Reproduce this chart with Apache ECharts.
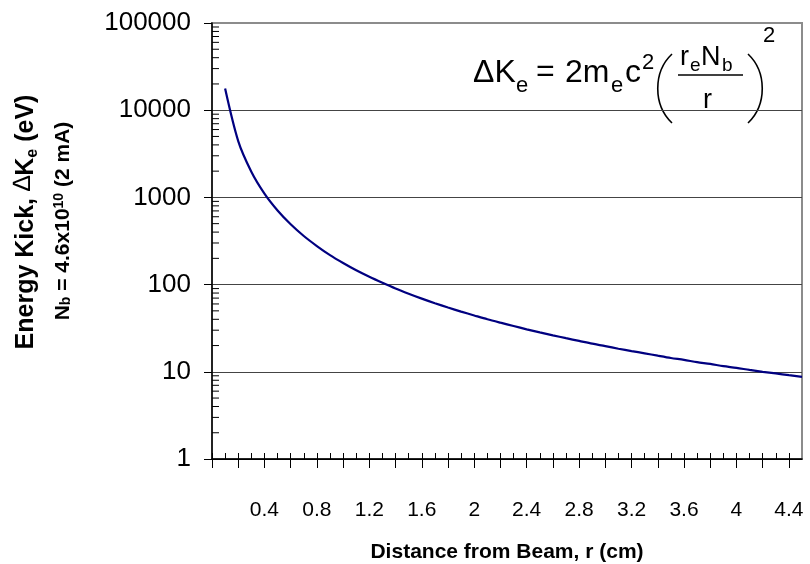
<!DOCTYPE html>
<html>
<head>
<meta charset="utf-8">
<script src="https://cdn.jsdelivr.net/npm/echarts@6/dist/echarts.min.js"></script>
<style>
  html, body { margin: 0; padding: 0; background: #fff; }
  #chart { width: 810px; height: 564px; }
</style>
</head>
<body>
<div id="chart"></div>
<script>
// ---- Data ----
const distances = [0.1, 0.2, 0.3, 0.4, 0.5, 0.6, 0.7, 0.8, 0.9, 1.0,
  1.1, 1.2, 1.3, 1.4, 1.5, 1.6, 1.7, 1.8, 1.9, 2.0,
  2.1, 2.2, 2.3, 2.4, 2.5, 2.6, 2.7, 2.8, 2.9, 3.0,
  3.1, 3.2, 3.3, 3.4, 3.5, 3.6, 3.7, 3.8, 3.9, 4.0,
  4.1, 4.2, 4.3, 4.4, 4.5];
const energyKick = [17700, 4420, 1970, 1105, 708, 492, 361, 277, 218, 177,
  146, 123, 105, 90.3, 78.7, 69.1, 61.2, 54.6, 49.0, 44.3,
  40.1, 36.6, 33.5, 30.7, 28.3, 26.2, 24.3, 22.6, 21.0, 19.7,
  18.4, 17.3, 16.3, 15.3, 14.4, 13.7, 12.9, 12.3, 11.6, 11.1,
  10.5, 10.0, 9.57, 9.14, 8.74];
const xTickLabels = ['0.4', '0.8', '1.2', '1.6', '2', '2.4', '2.8', '3.2', '3.6', '4', '4.4'];
const yTickLabels = ['1', '10', '100', '1000', '10000', '100000'];

// ---- Tick helpers (axis decoration only) ----
const X_MIN = 0, X_MAX = 4.5;
const xLabelValues = xTickLabels.map(Number);
const xMajorTicks = [];
for (let i = 0; i <= 22; i++) xMajorTicks.push(+(i * 0.2).toFixed(1));
const xAllTicks = [];
for (let i = 0; i <= 44; i++) xAllTicks.push(+(i * 0.1).toFixed(1));
const yMinorTicks = [];
for (let d = 0; d < 5; d++) {
  for (let k = 2; k <= 9; k++) yMinorTicks.push([X_MIN, k * Math.pow(10, d)]);
}

const font = 'Liberation Sans, Arial, Helvetica, sans-serif';
const chart = echarts.init(document.getElementById('chart'), null, { renderer: 'canvas' });

function txt(text, x, y, size) {
  return {
    type: 'text', x: x, y: y,
    style: { text: text, fill: '#000', fontFamily: font, fontSize: size, verticalAlign: 'middle', align: 'left' }
  };
}

const option = {
  animation: false,
  backgroundColor: '#fff',
  grid: {
    left: 212, right: 8, top: 23, bottom: 105,
    outerBoundsMode: 'none', containLabel: false,
    show: true, borderColor: '#8c8c8c', borderWidth: 2, backgroundColor: 'transparent'
  },
  xAxis: [{
    type: 'value', min: X_MIN, max: X_MAX, position: 'bottom',
    axisLine: { show: true, onZero: false, lineStyle: { color: '#000', width: 1.5 } },
    axisTick: { show: true, inside: false, length: 9, customValues: xMajorTicks, lineStyle: { color: '#000', width: 1 } },
    axisLabel: {
      show: true, margin: 41, color: '#000', fontFamily: font, fontSize: 21,
      customValues: xLabelValues,
      formatter: function (v) {
        const i = xLabelValues.findIndex(function (t) { return Math.abs(t - v) < 1e-6; });
        return i >= 0 ? xTickLabels[i] : '';
      }
    },
    splitLine: { show: false },
    name: 'Distance from Beam, r (cm)', nameLocation: 'middle', nameGap: 83,
    nameTextStyle: { color: '#000', fontFamily: font, fontSize: 21, fontWeight: 'bold' }
  }, {
    type: 'value', min: X_MIN, max: X_MAX, position: 'bottom',
    axisLine: { show: false, onZero: false },
    axisTick: { show: true, inside: true, length: 6, customValues: xAllTicks, lineStyle: { color: '#000', width: 1 } },
    axisLabel: { show: false },
    splitLine: { show: false }
  }],
  yAxis: [{
    type: 'log', logBase: 10, min: 1, max: 100000, splitNumber: 5,
    axisLine: { show: true, onZero: false, lineStyle: { color: '#000', width: 1.5 } },
    axisTick: { show: true, inside: false, length: 8, lineStyle: { color: '#000', width: 1 } },
    axisLabel: {
      color: '#000', fontFamily: font, fontSize: 26, margin: 21,
      formatter: function (v) {
        const i = Math.round(Math.log10(v));
        return yTickLabels[i] !== undefined ? yTickLabels[i] : '';
      }
    },
    splitLine: { show: true, lineStyle: { color: ['#000', '#444', '#444', '#444', '#444', '#8c8c8c'], width: 1 } },
    minorTick: { show: false }
  }],
  graphic: [
    // Y axis title, two rotated lines
    {
      type: 'text', x: 26, y: 222, rotation: Math.PI / 2,
      style: {
        text: 'Energy Kick, {d|∆}K{sub|e} (eV)',
        fill: '#000', fontFamily: font, fontSize: 25, fontWeight: 'bold',
        align: 'center', verticalAlign: 'middle',
        rich: {
          d: { fontFamily: font, fontSize: 25, fontWeight: 'normal', lineHeight: 30, verticalAlign: 'top' },
          sub: { fontFamily: font, fontSize: 16, fontWeight: 'bold', lineHeight: 16, verticalAlign: 'bottom' }
        }
      }
    },
    {
      type: 'text', x: 63, y: 221, rotation: Math.PI / 2,
      style: {
        text: 'N{sub|b} = 4.6x10{sup|10} (2 mA)',
        fill: '#000', fontFamily: font, fontSize: 21, fontWeight: 'bold',
        align: 'center', verticalAlign: 'middle',
        rich: {
          sub: { fontFamily: font, fontSize: 14, fontWeight: 'bold', lineHeight: 14, verticalAlign: 'bottom' },
          sup: { fontFamily: font, fontSize: 14, fontWeight: 'bold', lineHeight: 14, verticalAlign: 'top' }
        }
      }
    },
    // Formula annotation
    txt('ΔK', 473, 73, 32),
    txt('e', 516, 86, 22),
    txt('=', 536, 72, 32),
    txt('2m', 565, 73, 32),
    txt('e', 611, 86, 22),
    txt('c', 625, 73, 32),
    txt('2', 642, 63, 22),
    txt('r', 680, 58, 27),
    txt('e', 690, 66, 19),
    txt('N', 701, 58, 27),
    txt('b', 722, 66, 19),
    txt('r', 703, 101, 27),
    txt('2', 763, 36, 22),
    { type: 'line', shape: { x1: 678, y1: 75, x2: 743, y2: 75 }, style: { stroke: '#000', lineWidth: 1.3 } },
    { type: 'bezierCurve', shape: { x1: 672, y1: 54, x2: 672, y2: 123, cpx1: 653, cpy1: 72, cpx2: 653, cpy2: 105 }, style: { stroke: '#000', lineWidth: 1.6, fill: null } },
    { type: 'bezierCurve', shape: { x1: 748, y1: 54, x2: 748, y2: 123, cpx1: 767, cpy1: 72, cpx2: 767, cpy2: 105 }, style: { stroke: '#000', lineWidth: 1.6, fill: null } }
  ],
  series: [{
    type: 'line',
    xAxisIndex: 0, yAxisIndex: 0,
    data: distances.map(function (r, i) { return [r, energyKick[i]]; }),
    smooth: 0.3,
    showSymbol: false,
    lineStyle: { color: '#000080', width: 2.2 },
    clip: true,
    z: 5
  }, {
    type: 'custom',
    xAxisIndex: 0, yAxisIndex: 0,
    data: yMinorTicks,
    encode: { x: 0, y: 1 },
    silent: true,
    clip: false,
    renderItem: function (params, api) {
      const p = api.coord([api.value(0), api.value(1)]);
      return { type: 'line', shape: { x1: p[0], y1: p[1], x2: p[0] + 7, y2: p[1] }, style: { stroke: '#000', lineWidth: 1 } };
    }
  }]
};
chart.setOption(option);
</script>
</body>
</html>
